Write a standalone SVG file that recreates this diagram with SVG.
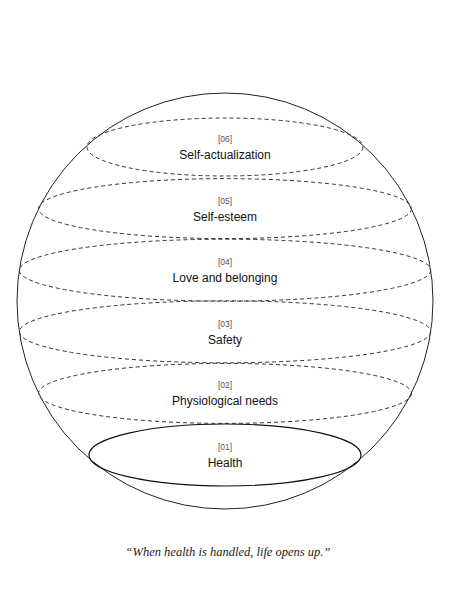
<svg xmlns="http://www.w3.org/2000/svg" width="450" height="600" viewBox="0 0 450 600">
<style>
.bg{fill:#fff}
.sphere{fill:none;stroke:#222;stroke-width:1}
.lvl{fill:none;stroke:#333;stroke-width:1;stroke-dasharray:4 3}
.base{fill:none;stroke:#111;stroke-width:1.2}
.tag{font-family:"Liberation Sans",Arial,sans-serif;font-size:8.5px;fill:#555;text-anchor:middle}
.title{font-family:"Liberation Sans",Arial,sans-serif;font-size:12px;fill:#111;text-anchor:middle}
.quote{font-family:"Liberation Serif","Times New Roman",serif;font-style:italic;font-size:12.5px;fill:#222;text-anchor:middle}
</style>
<rect class="bg" x="0" y="0" width="450" height="600"/>
<g id="sphere"><circle class="sphere" cx="225" cy="301" r="208"/></g>
<g id="connectors"></g>
<g id="level06">
<ellipse class="lvl" cx="225" cy="147" rx="138" ry="29"/>
<text class="tag" x="225" y="142">[06]</text>
<text class="title" x="225" y="159">Self-actualization</text>
</g>
<g id="level05">
<ellipse class="lvl" cx="225" cy="208.6" rx="186.5" ry="30"/>
<text class="tag" x="225" y="203.6">[05]</text>
<text class="title" x="225" y="220.6">Self-esteem</text>
</g>
<g id="level04">
<ellipse class="lvl" cx="225" cy="270.2" rx="205.7" ry="31"/>
<text class="tag" x="225" y="265.2">[04]</text>
<text class="title" x="225" y="282.2">Love and belonging</text>
</g>
<g id="level03">
<ellipse class="lvl" cx="225" cy="331.8" rx="205.7" ry="31"/>
<text class="tag" x="225" y="326.8">[03]</text>
<text class="title" x="225" y="343.8">Safety</text>
</g>
<g id="level02">
<ellipse class="lvl" cx="225" cy="393.4" rx="186.5" ry="30"/>
<text class="tag" x="225" y="388.4">[02]</text>
<text class="title" x="225" y="405.4">Physiological needs</text>
</g>
<g id="level01">
<ellipse class="base" cx="225" cy="455" rx="136" ry="31"/>
<text class="tag" x="225" y="450">[01]</text>
<text class="title" x="225" y="467">Health</text>
</g>
<g id="quote">
<text class="quote" x="228" y="556">“When health is handled, life opens up.”</text>
</g>
</svg>
